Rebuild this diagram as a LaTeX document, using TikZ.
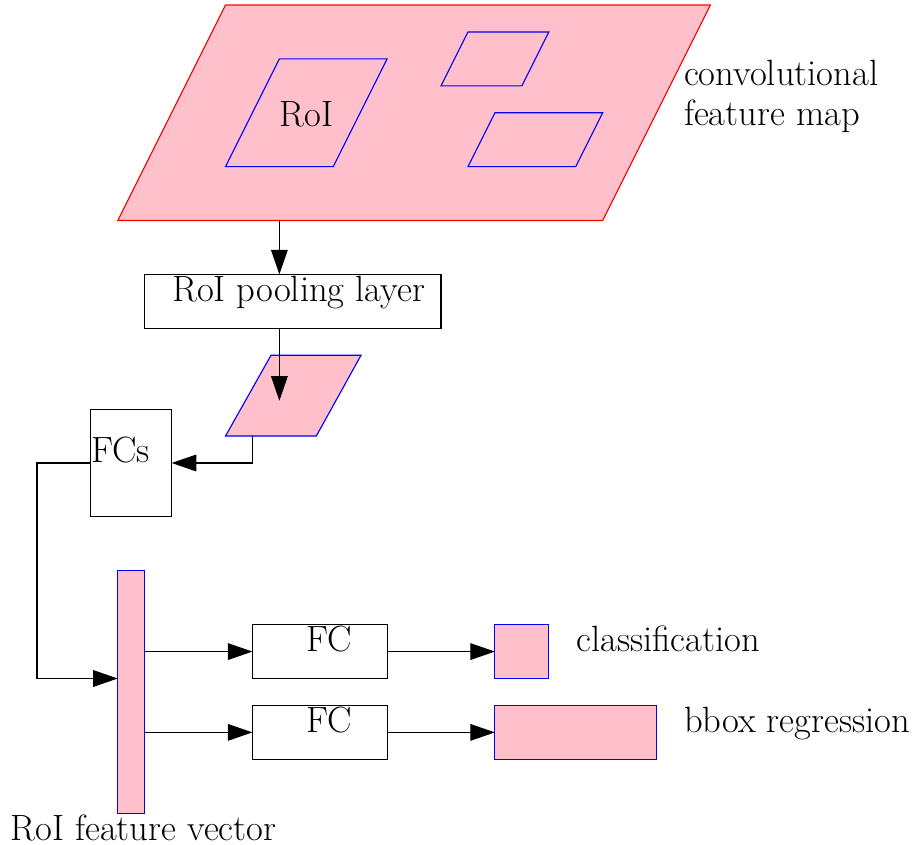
\documentclass[tikz,border=0pt]{standalone}
\usetikzlibrary{arrows.meta}
\definecolor{mypink}{HTML}{FFC0CB}
\begin{document}
\begin{tikzpicture}[x=0.5cm,y=0.5cm,
  line width=0.6pt,
  pinkshape/.style={fill=mypink,draw=blue},
  bigmap/.style={fill=mypink,draw=red},
  blk/.style={draw=black,rectangle,inner sep=0pt,outer sep=0pt},
  pblk/.style={draw=blue,fill=mypink,rectangle,inner sep=0pt,outer sep=0pt},
  lbl/.style={font=\fontsize{19.3}{21.2}\selectfont,inner sep=0pt,anchor=base west},
  arr/.style={-{Triangle[length=13pt,width=8.8pt]}}]
\useasboundingbox (-0.371,0.186) rectangle (33.52,-31.18);
% feature map
\draw[bigmap] (4,-8) -- (22,-8) -- (26,0) -- (8,0) -- cycle;
\draw[pinkshape] (8,-6) -- (12,-6) -- (14,-2) -- (10,-2) -- cycle;
\draw[pinkshape] (16,-3) -- (19,-3) -- (20,-1) -- (17,-1) -- cycle;
\draw[pinkshape] (17,-6) -- (21,-6) -- (22,-4) -- (18,-4) -- cycle;
\node[lbl] (roi) at (10,-4.5) {RoI};
\node[lbl,align=left] (fmlbl) at (25,-4.49) {convolutional\\feature map};
\coordinate (fmb) at (10,-8);
% pooling
\node[blk,minimum width=5.5cm,minimum height=1cm] (pool) at (10.5,-11) {};
\node[lbl] (poollbl) at (6,-11) {RoI pooling layer};
\draw[arr] (fmb) -- (pool.north -| fmb);
% pooled map
\draw[pinkshape] (8,-16) -- (11.37,-16) -- (13.03,-13) -- (9.69,-13) -- cycle;
\coordinate (pooltip) at (10,-14.69);
\coordinate (pmb) at (9,-16);
\draw[arr] (pool.south -| pooltip) -- (pooltip);
% FCs
\node[blk,minimum width=1.5cm,minimum height=2cm] (fcs) at (4.5,-17) {};
\node[lbl] (fcslbl) at (3,-17) {FCs};
\draw[arr] (pmb) |- (fcs.east);
% feature vector
\node[pblk,minimum width=0.5cm,minimum height=4.5cm] (fv) at (4.5,-25.5) {};
\node[lbl] (fvlbl) at (0,-31) {RoI feature vector};
\coordinate (loopa) at (1,-17);
\coordinate (loopb) at (1,-25);
\draw[arr] (fcs.west) -- (loopa) -- (loopb) -- (loopb -| fv.west);
% FC boxes
\node[blk,minimum width=2.5cm,minimum height=1cm] (fc1) at (11.5,-24) {};
\node[blk,minimum width=2.5cm,minimum height=1cm] (fc2) at (11.5,-27) {};
\node[lbl] (fc1lbl) at (11,-24) {FC};
\node[lbl] (fc2lbl) at (11,-27) {FC};
\draw[arr] (fv.east |- fc1.west) -- (fc1.west);
\draw[arr] (fv.east |- fc2.west) -- (fc2.west);
% outputs
\node[pblk,minimum width=1cm,minimum height=1cm] (cls) at (19,-24) {};
\node[pblk,minimum width=3cm,minimum height=1cm] (bbox) at (21,-27) {};
\draw[arr] (fc1.east) -- (cls.west);
\draw[arr] (fc2.east) -- (bbox.west);
\node[lbl] (clslbl) at (21,-24) {classification};
\node[lbl] (bboxlbl) at (25,-27) {bbox regression};
\end{tikzpicture}
\end{document}
